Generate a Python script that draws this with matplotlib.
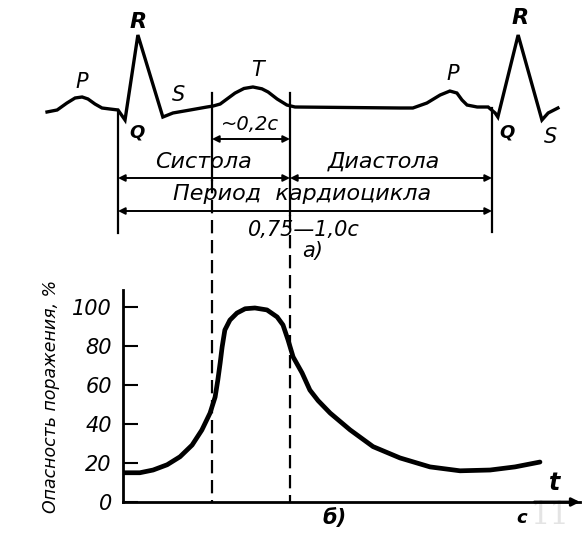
import matplotlib
matplotlib.use("Agg")
import matplotlib.pyplot as plt

# ECG trace (a): time in s from the first Q, amplitude in mV
ecg_t = [-0.182, -0.156, -0.131, -0.110, -0.092, -0.077, -0.059, -0.041,
         -0.021, 0.0, 0.018, 0.051, 0.115, 0.141, 0.185, 0.228, 0.244, 0.262,
         0.30, 0.323, 0.346, 0.369, 0.385, 0.408, 0.433, 0.454, 0.723, 0.756,
         0.792, 0.826, 0.851, 0.869, 0.882, 0.895, 0.921, 0.949, 0.967, 0.974,
         1.026, 1.087, 1.103, 1.128]
ecg_mv = [-0.056, -0.028, 0.070, 0.141, 0.155, 0.127, 0.056, 0.0,
          -0.014, -0.028, -0.169, 1.028, -0.127, -0.070, -0.028, 0.014, 0.028,
          0.056, 0.21, 0.275, 0.296, 0.27, 0.225, 0.127, 0.042, 0.014, 0.0,
          0.0, 0.070, 0.183, 0.239, 0.211, 0.113, 0.042, 0.014, 0.014, -0.070,
          -0.127, 1.028, -0.169, -0.070, 0.0]

# danger of injury (b), % versus time in s
risk_t = [0.013, 0.056, 0.090, 0.126, 0.159, 0.190, 0.215, 0.236, 0.249,
          0.256, 0.262, 0.267, 0.274, 0.287, 0.305, 0.326, 0.351, 0.382,
          0.408, 0.423, 0.436, 0.449, 0.472, 0.492, 0.513, 0.544, 0.595,
          0.654, 0.723, 0.80, 0.877, 0.954, 1.018, 1.082]
risk_pct = [15.0, 15.0, 16.4, 19.1, 23.2, 29.2, 36.9, 45.6, 53.8,
            62.6, 71.4, 79.5, 88.2, 93.3, 96.9, 99.1, 99.5, 98.5,
            94.9, 90.8, 83.1, 74.4, 66.2, 57.4, 52.0, 45.6, 37.0,
            28.4, 22.6, 18.0, 16.0, 16.4, 18.0, 20.5]
y_ticks = [0, 20, 40, 60, 80, 100]
y_tick_labels = ["0", "20", "40", "60", "80", "100"]

# phase boundaries, s
t_q1, t_t_start, t_t_end, t_q2 = 0.0, 0.241, 0.441, 0.959

W, H = 585, 534
fig = plt.figure(figsize=(W / 100, H / 100), dpi=100)
plt.rcParams['font.family'] = ['DejaVu Sans']
FONT = dict(style='italic', color='black')


def tx(px):
    return (px - 118) / 390


def my(py):
    return (108 - py) / 71


# top panel spans whole figure
ax = fig.add_axes([0, 0, 1, 1])
ax.set_xlim(tx(0), tx(W))
ax.set_ylim(my(H), my(0))
ax.axis('off')
ax.plot(ecg_t, ecg_mv, color='black', lw=2.4, solid_joinstyle='miter')

# vertical boundaries
ax.plot([t_q1, t_q1], [my(110), my(233)], color='black', lw=1.6)
ax.plot([t_q2, t_q2], [my(108), my(232)], color='black', lw=1.6)
ax.plot([t_t_start, t_t_start], [my(93), my(180)], color='black', lw=1.6)
ax.plot([t_t_start, t_t_start], [my(180), my(502)], color='black', lw=1.6,
        dashes=(6, 3))
ax.plot([t_t_end, t_t_end], [my(93), my(215)], color='black', lw=1.6)
ax.plot([t_t_end, t_t_end], [my(215), my(502)], color='black', lw=1.6,
        dashes=(6, 3))

arrow = dict(arrowstyle='<|-|>', color='black', lw=1.4, mutation_scale=10,
             shrinkA=0, shrinkB=0)
for a, b, py in [(t_t_start, t_t_end, 139), (t_q1, t_t_end, 178),
                 (t_t_end, t_q2, 178), (t_q1, t_q2, 211)]:
    ax.annotate('', xy=(a, my(py)), xytext=(b, my(py)), arrowprops=arrow)


def label(px, py, s, size=13, **kw):
    ax.text(tx(px), my(py), s, ha='center', va='center', fontsize=size,
            **FONT, **kw)


label(82, 82, 'P', 15)
label(138, 22, 'R', 16, weight='bold')
label(178, 95, 'S', 15)
label(137, 132, 'Q', 13, weight='bold')
label(257, 70, 'T', 15)
label(453, 74, 'P', 15)
label(520, 18, 'R', 16, weight='bold')
label(507, 133, 'Q', 13, weight='bold')
label(550, 137, 'S', 15)
label(250, 125, '~0,2с', 14)
label(203, 162, 'Систола', 16)
label(384, 162, 'Диастола', 16)
label(302, 194, 'Период  кардиоцикла', 16)
label(304, 230, '0,75—1,0с', 15)
label(313, 251, 'а)', 15)
label(335, 518, 'б)', 15, weight='bold')
label(555, 483, 't', 17, weight='bold')
label(522, 518, 'с', 13, weight='bold')
ax.text(tx(550), my(515), '11', ha='center', va='center', fontsize=22,
        family='DejaVu Serif', color='#e4e4e4')

# bottom panel
ax2 = fig.add_axes([123 / W, (H - 502) / H, (580 - 123) / W, (502 - 290) / H])
ax2.patch.set_visible(False)
ax2.set_xlim(tx(123), tx(580))
ax2.set_ylim(0, (502 - 290) / 1.95)
ax2.plot(risk_t, risk_pct, color='black', lw=3.4, solid_capstyle='round',
         solid_joinstyle='round')
for side in ['top', 'right']:
    ax2.spines[side].set_visible(False)
for side in ['left', 'bottom']:
    ax2.spines[side].set_linewidth(2.0)
ax2.set_xticks([])
ax2.set_yticks(y_ticks)
ax2.set_yticklabels(y_tick_labels, fontsize=15, style='italic')
ax2.tick_params(axis='y', direction='in', length=11, width=1.5, pad=8)
ax2.annotate('', xy=(1.0, 0), xytext=(0.9, 0), xycoords='axes fraction',
             arrowprops=dict(arrowstyle='-|>', color='black', lw=2,
                             mutation_scale=12, shrinkA=0, shrinkB=0))
ax2.set_ylabel('Опасность поражения, %', fontsize=12.5, style='italic',
               labelpad=9)

fig.savefig('out.png', dpi=100)
